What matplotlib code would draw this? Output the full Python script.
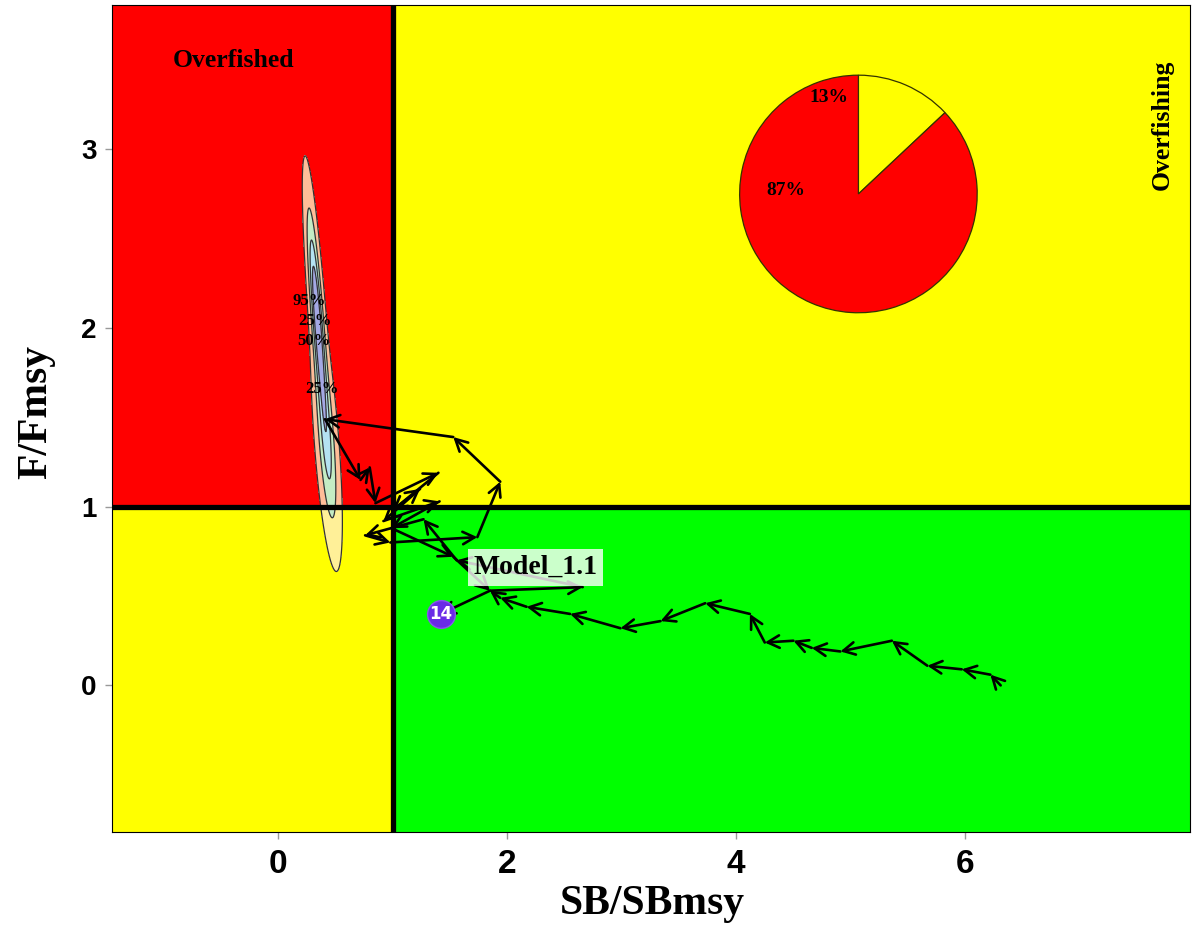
import matplotlib
matplotlib.use("Agg")
import matplotlib.pyplot as plt
import numpy as np

# trajectory of the stock in time order (SB/SBmsy, F/Fmsy)
sb_ratio = [6.31, 6.22, 5.97, 5.67, 5.36, 4.91, 4.66, 4.50, 4.25, 4.12, 3.73, 3.34,
            2.99, 2.55, 2.17, 1.94, 1.85, 2.66, 1.56, 1.27, 0.76, 0.98, 1.74, 1.94,
            1.53, 0.41, 0.72, 0.80, 0.85, 1.40, 1.00, 1.24, 0.92, 1.41, 0.99, 1.53,
            1.85, 1.42]
f_ratio = [0.00, 0.06, 0.09, 0.11, 0.25, 0.19, 0.21, 0.25, 0.24, 0.40, 0.46, 0.36,
           0.32, 0.40, 0.44, 0.49, 0.53, 0.55, 0.70, 0.93, 0.84, 0.80, 0.83, 1.14,
           1.39, 1.49, 1.15, 1.22, 1.02, 1.19, 0.98, 1.10, 0.92, 1.03, 0.88, 0.72,
           0.53, 0.40]
final_label = "14"
model_name = "Model_1.1"

# share of the final-year uncertainty in each quadrant
pie_values = [13, 87]
pie_labels = ["13%", "87%"]
pie_colors = ["#FFFF00", "#FF0000"]

# final-year uncertainty: two normal parts along a tilted axis
dens_cy = [2.08, 1.35]
dens_sdy = [0.37, 0.33]
dens_sdx = [0.032, 0.050]
dens_w = [0.55, 0.45]
axis_x0, axis_y0, axis_slope = 0.376, 1.77, -0.117
hdr_levels = [95, 75, 50, 25]
contour_labels = ["95%", "25%", "50%", "25%"]
contour_lab_x = [0.27, 0.32, 0.31, 0.38]
contour_lab_y = [2.15, 2.04, 1.93, 1.66]

xmin, xmax = -1.45, 7.96
ymin, ymax = -0.82, 3.81

serif = ["Liberation Serif", "DejaVu Serif"]

fig = plt.figure(figsize=(11.92, 9.40), dpi=100)
ax = fig.add_axes([0.094, 0.115, 0.904, 0.880])

# quadrants
ax.fill_between([xmin, 1], 1, ymax, color="#FF0000", lw=0, zorder=0)
ax.fill_between([xmin, 1], ymin, 1, color="#FFFF00", lw=0, zorder=0)
ax.fill_between([1, xmax], 1, ymax, color="#FFFF00", lw=0, zorder=0)
ax.fill_between([1, xmax], ymin, 1, color="#00FF00", lw=0, zorder=0)

# density contours
gx = np.linspace(0.0, 0.9, 300)
gy = np.linspace(0.0, 3.6, 600)
X, Y = np.meshgrid(gx, gy)
Z = np.zeros_like(X)
for cy, sy, sx, w in zip(dens_cy, dens_sdy, dens_sdx, dens_w):
    xc = axis_x0 + axis_slope * (Y - axis_y0)
    Z += w * np.exp(-0.5 * ((Y - cy) / sy) ** 2 - 0.5 * ((X - xc) / sx) ** 2) / (sx * sy)
zs = np.sort(Z.ravel())[::-1]
cum = np.cumsum(zs) / zs.sum()
levels = [zs[np.searchsorted(cum, p / 100)] for p in hdr_levels] + [Z.max()]
fills = [(1.0, 0.93, 0.75, 0.8), "#C4ECC4", "#B4E2F2", "#A4A8E4"]
ax.contourf(X, Y, Z, levels=levels, colors=fills, zorder=1)
ax.contour(X, Y, Z, levels=levels[:-1], colors="#333333", linewidths=0.9, zorder=1.5)
for t, lx, ly in zip(contour_labels, contour_lab_x, contour_lab_y):
    ax.text(lx, ly, t, family=serif, fontsize=12, fontweight="bold",
            ha="center", va="center", zorder=2)

# reference lines
ax.axvline(1, color="black", lw=3.8, zorder=2)
ax.axhline(1, color="black", lw=3.8, zorder=2)

# trajectory arrows
for i in range(len(sb_ratio) - 1):
    ax.annotate("", xy=(sb_ratio[i + 1], f_ratio[i + 1]), xytext=(sb_ratio[i], f_ratio[i]),
                arrowprops=dict(arrowstyle="->,head_length=0.85,head_width=0.45",
                                color="black", lw=1.9, shrinkA=0, shrinkB=0),
                zorder=3)

ax.text(2.25, 0.66, model_name, family=serif, fontsize=20, fontweight="bold",
        ha="center", va="center", zorder=5,
        bbox=dict(boxstyle="square,pad=0.2", facecolor="white", alpha=0.8, edgecolor="none"))

ax.plot(sb_ratio[-1], f_ratio[-1], "o", ms=20, color="#6A2BE6", mec="#8855EE", zorder=6)
ax.text(sb_ratio[-1], f_ratio[-1], final_label, color="white", fontsize=12,
        fontweight="bold", ha="center", va="center", zorder=7)

ax.text(-0.39, 3.50, "Overfished", family=serif, fontsize=18.5, fontweight="bold",
        ha="center", va="center")
ax.text(7.72, 3.14, "Overfishing", family=serif, fontsize=18.5, fontweight="bold",
        ha="center", va="center", rotation=90)

ax.set_xlim(xmin, xmax)
ax.set_ylim(ymin, ymax)
ax.set_xticks([0, 2, 4, 6])
ax.set_yticks([0, 1, 2, 3])
ax.tick_params(axis="both", length=5, color="#999999", width=1)
ax.tick_params(axis="x", pad=7)
ax.tick_params(axis="y", pad=6)
for lab in ax.get_xticklabels():
    lab.set_family(["Liberation Sans", "DejaVu Sans"])
    lab.set_fontsize(24)
    lab.set_fontweight("bold")
for lab in ax.get_yticklabels():
    lab.set_family(["Liberation Sans", "DejaVu Sans"])
    lab.set_fontsize(20)
    lab.set_fontweight("bold")

ax.set_xlabel("SB/SBmsy", family=serif, fontsize=30, fontweight="bold")
ax.set_ylabel("F/Fmsy", family=serif, fontsize=30, fontweight="bold")
ax.xaxis.set_label_coords(0.501, -0.064)
ax.yaxis.set_label_coords(-0.053, 0.508)

# pie inset
pax = fig.add_axes([0.6195, 0.6660, 0.2013, 0.2553])
pax.pie(pie_values, colors=pie_colors, startangle=90, counterclock=False,
        wedgeprops=dict(edgecolor="#333300", linewidth=0.9))
pax.set_xlim(-1.01, 1.01)
pax.set_ylim(-1.01, 1.01)
pax.text(-0.25, 0.81, pie_labels[0], family=serif, fontsize=14, fontweight="bold",
         ha="center", va="center")
pax.text(-0.61, 0.03, pie_labels[1], family=serif, fontsize=14, fontweight="bold",
         ha="center", va="center")

fig.savefig("out.png", dpi=100)
